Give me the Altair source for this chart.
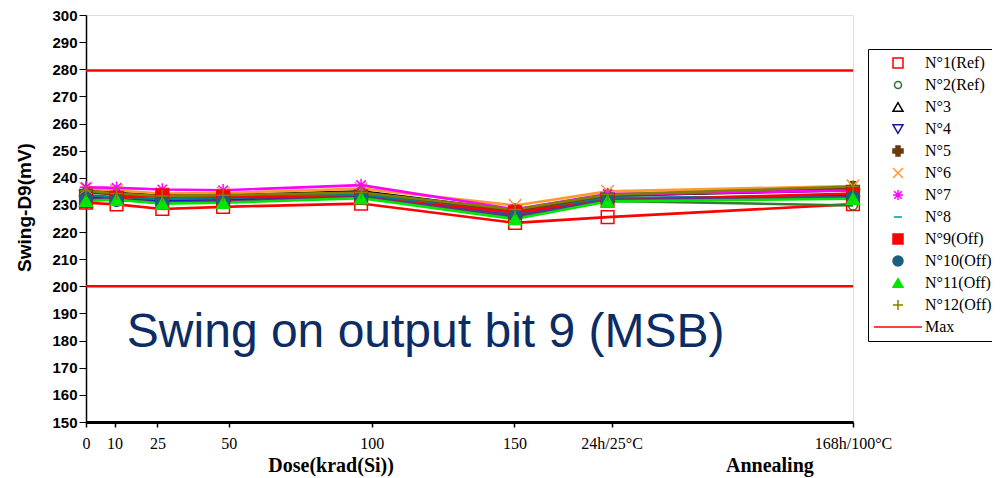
import altair as alt
import pandas as pd

# ---- data ----
doses = [0, 10.7, 26.7, 48, 96.3, 150.2, 182.6, 268.5]

series = ["N°1(Ref)", "N°2(Ref)", "N°3", "N°4", "N°5", "N°6", "N°7", "N°8",
          "N°9(Off)", "N°10(Off)", "N°11(Off)", "N°12(Off)"]

n1 = [230.8, 230.2, 228.5, 229.3, 230.5, 223.4, 225.5, 230.3]
n2 = [233.0, 232.0, 231.0, 231.5, 233.0, 225.5, 231.5, 229.8]
n3 = [235.5, 234.5, 233.5, 233.5, 235.0, 228.0, 233.5, 235.4]
n4 = [233.2, 232.3, 231.8, 232.0, 233.4, 226.5, 232.3, 233.6]
n5 = [234.8, 233.8, 233.0, 233.2, 234.3, 227.6, 233.2, 236.2]
n6 = [236.0, 235.3, 234.2, 234.4, 236.0, 229.8, 235.0, 237.0]
n7 = [236.5, 236.3, 235.7, 235.4, 237.3, 228.4, 234.0, 235.3]
n8 = [233.6, 232.8, 232.2, 232.5, 233.8, 226.8, 232.6, 233.0]
n9 = [231.4, 232.6, 233.5, 233.0, 232.6, 227.3, 231.6, 234.2]
n10 = [232.4, 231.8, 231.0, 231.3, 232.8, 226.0, 231.8, 232.8]
n11 = [231.5, 231.9, 230.5, 230.8, 232.5, 224.8, 231.3, 232.3]
n12 = [235.2, 234.2, 233.3, 233.6, 234.6, 228.3, 233.8, 236.8]
all_values = [n1, n2, n3, n4, n5, n6, n7, n8, n9, n10, n11, n12]

max_name = "Max"
max_levels = [279.5, 200]

tick_values = [0, 10, 25, 50, 100, 150, 184, 268.5]
annealing_labels = ["24h/25°C", "168h/100°C"]
y_ticks = [150, 160, 170, 180, 190, 200, 210, 220, 230, 240, 250, 260, 270, 280, 290, 300]

# ---- styles ----
marker_colors = ["#ff0000", "#2f6f2f", "#000000", "#1a1a9c", "#6b3a0a", "#ff9933",
                 "#ff00ff", "#009999", "#ff0000", "#1b5e7e", "#00e600", "#808000"]
line_colors = ["#ff0000", "#2e7d32", "#000000", "#0000ff", "#6b3a0a", "#ff9933",
               "#ff00ff", "#008080", "#ff0000", "#6a2c91", "#00e600", "#808000"]
fills = ["transparent", "transparent", "transparent", "transparent", "#6b3a0a",
         "transparent", "transparent", "transparent", "#ff0000", "#1b5e7e",
         "#00e600", "transparent"]
shapes = [
    "square",
    "M-0.7,0A0.7,0.7,0,1,1,0.7,0A0.7,0.7,0,1,1,-0.7,0Z",
    "triangle-up",
    "triangle-down",
    "cross",
    "M-1,-1L1,1M-1,1L1,-1",
    "M-1,0H1M0,-1V1M-0.75,-0.75L0.75,0.75M-0.75,0.75L0.75,-0.75",
    "M-0.8,0H0.8",
    "square",
    "circle",
    "triangle-up",
    "M-1,0H1M0,-1V1",
]

rows = []
for name, vals, lc in zip(series, all_values, line_colors):
    for d, v in zip(doses, vals):
        rows.append({"series": name, "dose": d, "swing": v, "lc": lc})
df = pd.DataFrame(rows)

domain_names = series + [max_name]
stroke_range = marker_colors + ["#ff0000"]
fill_range = fills + ["transparent"]
shape_range = shapes + ["M-4.8,0H4.8"]

legend = alt.Legend(
    title=None, orient="none", legendX=782, legendY=34,
    strokeColor="black", padding=6, symbolOffset=16, labelOffset=19,
    symbolSize=100, symbolStrokeWidth=1.5, labelFont="Liberation Serif",
    labelFontSize=16, labelColor="black", rowPadding=6, fillColor="white",
)

x_scale = alt.Scale(domain=[0, 268.5], nice=False, zero=False)
y_scale = alt.Scale(domain=[150, 300], nice=False, zero=False)

label_expr = (
    f"datum.value == 184 ? '{annealing_labels[0]}' : "
    f"datum.value == 268.5 ? '{annealing_labels[1]}' : datum.label"
)

x_axis = alt.Axis(values=tick_values, labelExpr=label_expr, title=None,
                  grid=False, domainColor="black", domainWidth=3,
                  tickColor="black", tickSize=5, tickWidth=1.5,
                  labelFont="Liberation Serif", labelFontSize=16,
                  labelColor="black", labelPadding=8, labelOverlap=False,
                  labelFlush=False)
y_axis = alt.Axis(values=y_ticks, title="Swing-D9(mV)",
                  grid=False, domainColor="black", domainWidth=1.5,
                  tickColor="black", tickSize=7, labelFont="Liberation Sans",
                  labelFontWeight="bold", labelFontSize=15, labelColor="black",
                  labelPadding=2, labelOverlap=False, labelFlush=False,
                  titleFont="Liberation Sans",
                  titleFontWeight="bold", titleFontSize=19, titleColor="black",
                  titleX=-52, titleY=192)


def xe():
    return alt.X("dose:Q", scale=x_scale, axis=x_axis)


def ye():
    return alt.Y("swing:Q", scale=y_scale, axis=y_axis)


rules = alt.Chart(pd.DataFrame({"swing": max_levels})).mark_rule(
    color="#ff0000", strokeWidth=2.5
).encode(y=ye())

lines = alt.Chart(df).mark_line(strokeWidth=2.6).encode(
    x=xe(), y=ye(), detail="series:N",
    stroke=alt.Stroke("lc:N", scale=None),
)

points = alt.Chart(df).mark_point(size=160, strokeWidth=1.5, opacity=1).encode(
    x=xe(), y=ye(),
    shape=alt.Shape("series:N", scale=alt.Scale(domain=domain_names, range=shape_range), legend=legend),
    stroke=alt.Stroke("series:N", scale=alt.Scale(domain=domain_names, range=stroke_range), legend=legend),
    fill=alt.Fill("series:N", scale=alt.Scale(domain=domain_names, range=fill_range), legend=legend),
)

annot = alt.Chart(pd.DataFrame({"t": ["Swing on output bit 9 (MSB)"]})).mark_text(
    align="left", baseline="alphabetic", font="Liberation Sans", fontSize=48,
    color="#0b2c64"
).encode(
    x=alt.X(datum=14.3, type="quantitative", scale=x_scale, axis=x_axis),
    y=alt.Y(datum=177.7, type="quantitative", scale=y_scale, axis=y_axis),
    text="t:N",
)

xt1 = alt.Chart(pd.DataFrame({"t": ["Dose(krad(Si))"]})).mark_text(
    align="center", baseline="alphabetic", font="Liberation Serif", fontSize=20,
    fontWeight="bold", color="black"
).encode(x=alt.X(datum=85.8, type="quantitative", scale=x_scale, axis=x_axis),
         y=alt.value(457), text="t:N")

xt2 = alt.Chart(pd.DataFrame({"t": ["Annealing"]})).mark_text(
    align="center", baseline="alphabetic", font="Liberation Serif", fontSize=20,
    fontWeight="bold", color="black"
).encode(x=alt.X(datum=239.4, type="quantitative", scale=x_scale, axis=x_axis),
         y=alt.value(457), text="t:N")

chart = alt.layer(rules, lines, points, annot, xt1, xt2).properties(
    width=767, height=407,
    autosize=alt.AutoSizeParams(type="none"),
    padding={"left": 78, "top": 7, "right": 139, "bottom": 56},
).configure_view(
    stroke="#555555", strokeWidth=1
).configure_axis(
    labelOverlap=False
).configure(background="white")

chart.save("out.html", embed_options={"renderer": "svg", "actions": False})
